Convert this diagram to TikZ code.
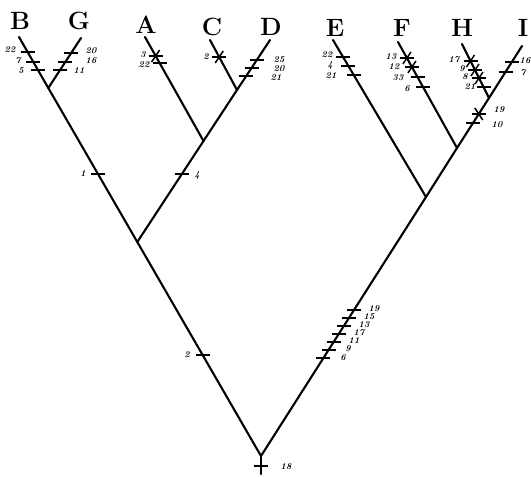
\documentclass[tikz,border=0pt]{standalone}
\usetikzlibrary{calc}
\tikzset{
  branch/.style={line width=2.1pt, line cap=round},
  tickline/.style={line width=1.5pt},
  num/.style={font=\fontsize{9}{9}\selectfont\bfseries\itshape, inner sep=0pt},
  taxon/.style={font=\fontsize{25}{25}\selectfont\bfseries, inner sep=0pt, anchor=base},
}
\newcommand\mytick[2]{\draw[tickline] (#1-7,#2) -- (#1+7,#2);}
% asterisk on a "/" line
\newcommand\myastr[2]{\draw[tickline] (#1-7,#2) -- (#1+7,#2); \draw[tickline] (#1-4,#2-6) -- (#1+4,#2+6);}
% asterisk on a "\" line
\newcommand\myastl[2]{\draw[tickline] (#1-7,#2) -- (#1+7,#2); \draw[tickline] (#1-4,#2+6) -- (#1+4,#2-6);}
\newcommand\lab[4]{\node[num] (#1) at (#2,#3) {#4};}
\begin{document}
\begin{tikzpicture}[x=1pt,y=-1pt]
\useasboundingbox (0,0) rectangle (531,477);
% nodes of the tree
\coordinate (R) at (261,456);
\coordinate (Rb) at (261,474);
\coordinate (N1) at (137.3,242);
\coordinate (BG) at (48.3,88);
\coordinate (Bt) at (19,37);
\coordinate (Gt) at (81,38);
\coordinate (N2) at (203.5,141);
\coordinate (N3) at (237,90);
\coordinate (At) at (145,37);
\coordinate (Ct) at (210,40);
\coordinate (Dt) at (270,40);
\coordinate (N4) at (426,197);
\coordinate (Et) at (333,40);
\coordinate (N5) at (457,148);
\coordinate (Ft) at (398,42);
\coordinate (N6) at (489,98);
\coordinate (Ht) at (462,44);
\coordinate (It) at (522,46);
% taxa
\node[taxon] (B) at (20,29) {B};
\node[taxon] (G) at (79,29) {G};
\node[taxon] (A) at (146,33) {A};
\node[taxon] (C) at (212,35) {C};
\node[taxon] (D) at (271,35) {D};
\node[taxon] (E) at (335,36) {E};
\node[taxon] (F) at (402,36) {F};
\node[taxon] (H) at (462,36) {H};
\node[taxon] (I) at (523,36) {I};
% branches
\draw[branch] (Rb) -- (R);
\draw[branch] (R) -- (N1) -- (BG) -- (Bt);
\draw[branch] (BG) -- (Gt);
\draw[branch] (N1) -- (N2) -- (N3) -- (Dt);
\draw[branch] (N2) -- (At);
\draw[branch] (N3) -- (Ct);
\draw[branch] (R) -- (N4) -- (N5) -- (N6) -- (It);
\draw[branch] (N4) -- (Et);
\draw[branch] (N5) -- (Ft);
\draw[branch] (N6) -- (Ht);
% root
\mytick{261}{466} \lab{l18}{286}{467}{18}
% left trunk
\mytick{202.6}{355} \lab{l2a}{187}{355}{2}
\mytick{98}{174} \lab{l1}{83}{174}{1}
% B
\mytick{27.5}{52} \lab{lB22}{10}{50}{22}
\mytick{33.3}{62} \lab{lB7}{18}{61}{7}
\mytick{37.9}{70} \lab{lB5}{21}{71}{5}
% G
\mytick{71.2}{53} \lab{lG20}{91}{51}{20}
\mytick{65.3}{62} \lab{lG16}{91}{61}{16}
\mytick{60.1}{70} \lab{lG11}{79}{71}{11}
% A-D trunk
\mytick{181.7}{174} \lab{l4}{197}{175}{4}
% A
\myastl{155.6}{56} \lab{lA3}{143}{55}{3}
\mytick{159.5}{63} \lab{lA22}{144}{65}{22}
% C
\myastl{219.2}{57} \lab{lC2}{206}{57}{2}
% D
\mytick{256.8}{60} \lab{lD25}{279}{60}{25}
\mytick{251.5}{68} \lab{lD20}{279}{69}{20}
\mytick{246.2}{76} \lab{lD21}{276}{78}{21}
% E
\mytick{343.1}{57} \lab{lE22}{327}{55}{22}
\mytick{348.4}{66} \lab{lE4}{330}{65}{4}
\mytick{353.8}{75} \lab{lE21}{331}{76}{21}
% F
\myastl{406.9}{58} \lab{lF13}{391}{57}{13}
\myastl{411.9}{67} \lab{lF12}{394}{67}{12}
\mytick{417.5}{77} \lab{lF33}{398}{78}{33}
\mytick{423}{87} \lab{lF6}{407}{89}{6}
% H
\myastl{470.5}{61} \lab{lH17}{454}{60}{17}
\myastl{475}{70} \lab{lH9}{462}{69}{9}
\myastl{479}{78} \lab{lH8}{465}{77}{8}
\mytick{483.5}{87} \lab{lH21}{470}{87}{21}
% I
\mytick{512}{62} \lab{lI16}{525}{61}{16}
\mytick{505.6}{72} \lab{lI7}{523}{73}{7}
% N5-N6
\myastr{478.8}{114} \lab{l19a}{499}{110}{19}
\mytick{473}{123} \lab{l10}{497}{125}{10}
% right trunk bundle
\mytick{354.0}{310} \lab{lb19}{374}{309}{19}
\mytick{348.9}{318} \lab{lb15}{369}{317}{15}
\mytick{343.8}{326} \lab{lb13}{364}{325}{13}
\mytick{338.7}{334} \lab{lb17}{359}{333}{17}
\mytick{333.6}{342} \lab{lb11}{354}{341}{11}
\mytick{328.5}{350} \lab{lb9}{348}{349}{9}
\mytick{323.4}{358} \lab{lb6}{343}{358}{6}
\end{tikzpicture}
\end{document}
